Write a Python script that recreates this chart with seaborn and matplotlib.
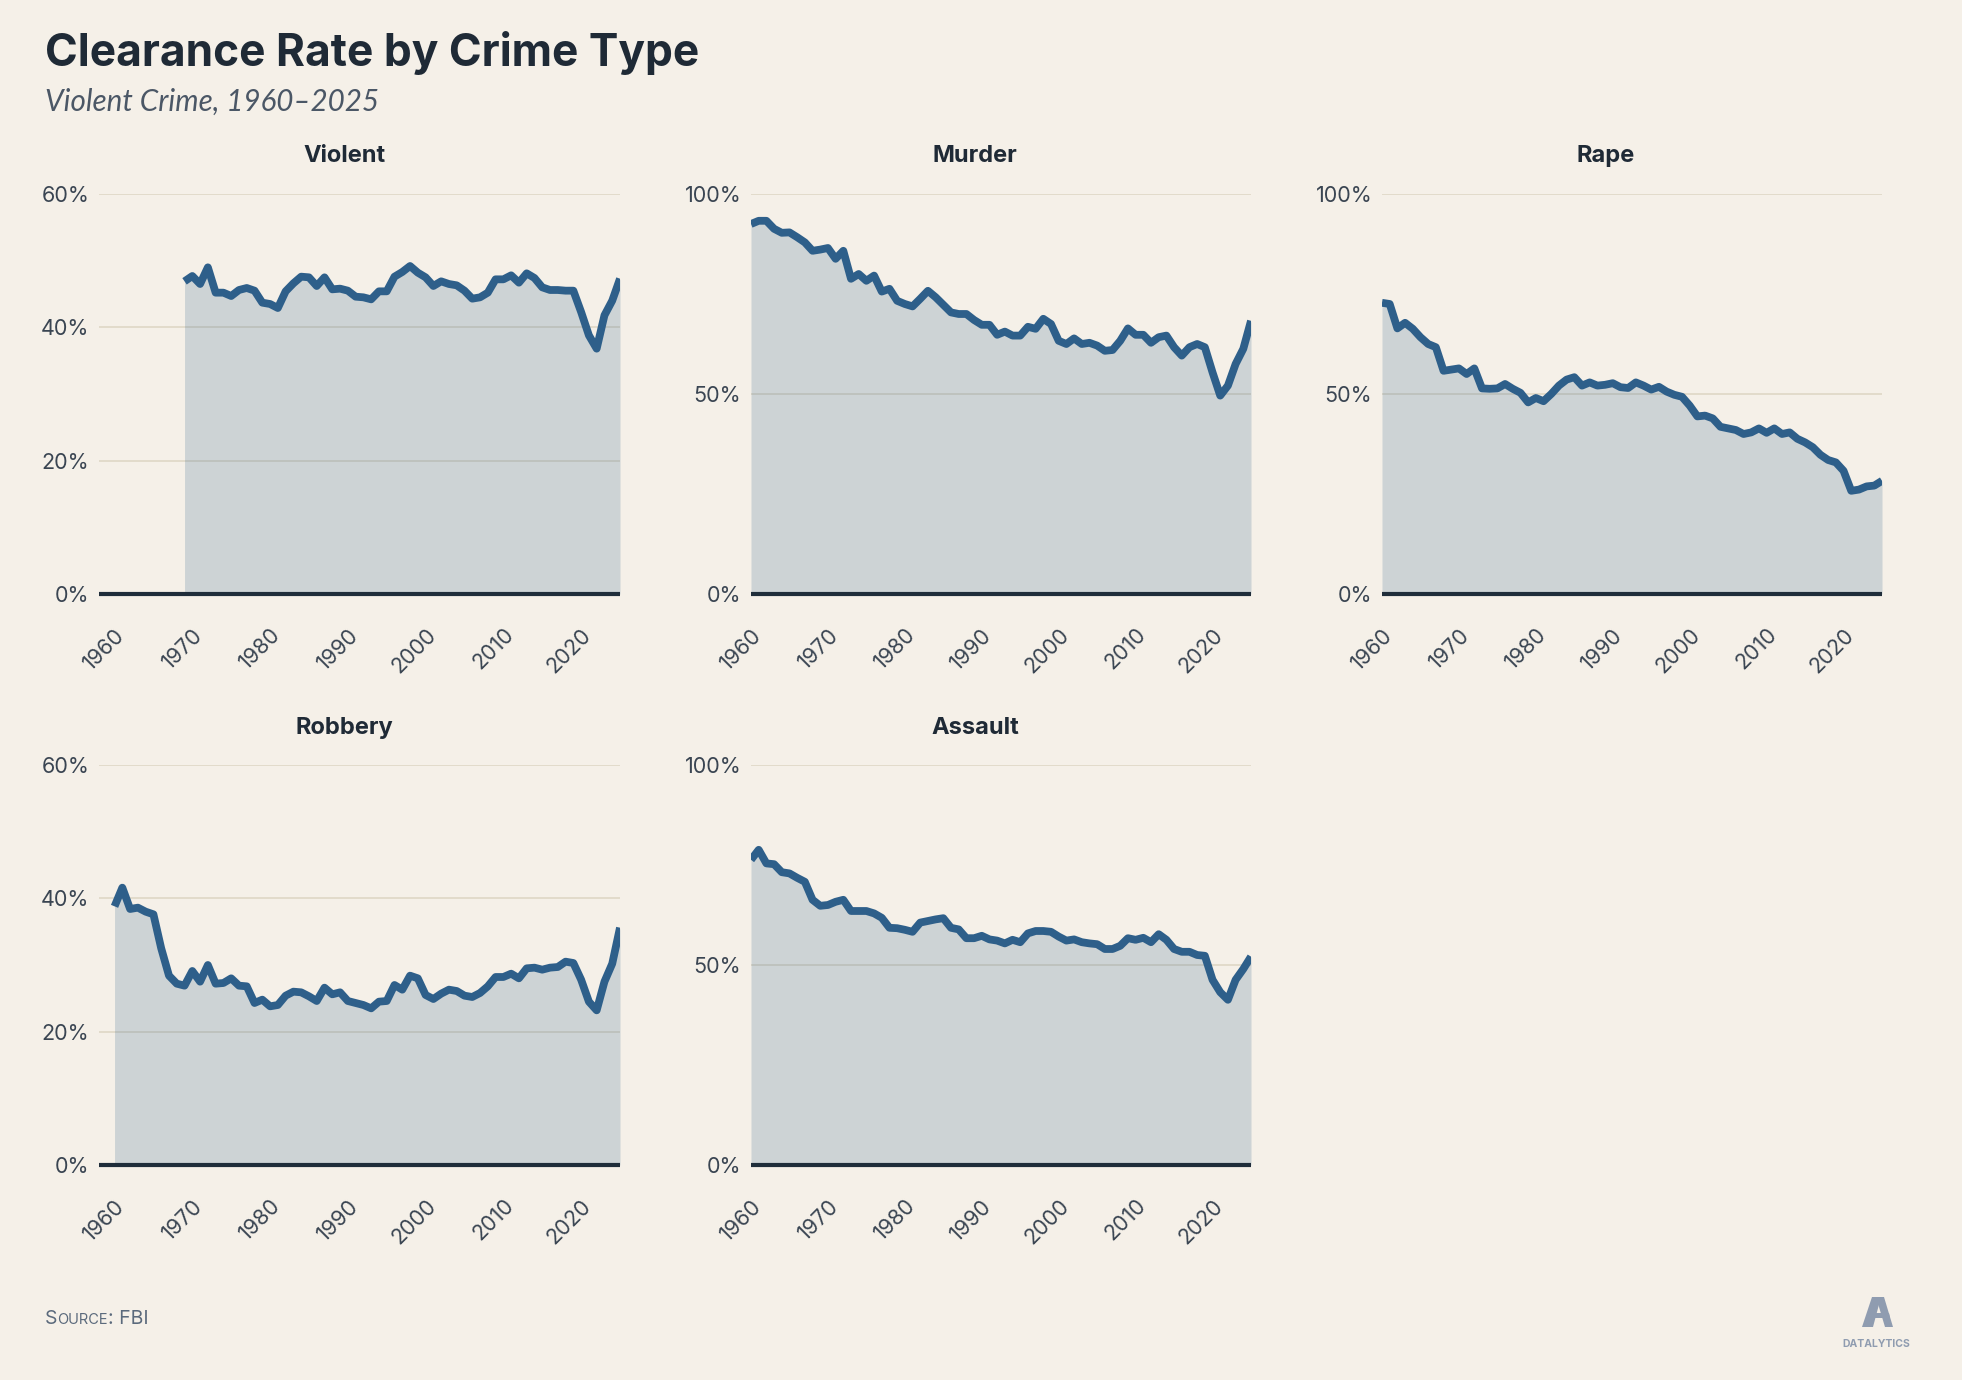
import numpy as np
import pandas as pd
import matplotlib
matplotlib.use("Agg")
import matplotlib.pyplot as plt
from matplotlib.patches import Polygon
import seaborn as sns

# ---------------- data (clearance rate, %) ----------------
violent_start = 1969
violent = [46.9,
           47.7, 46.5, 49.0, 45.2, 45.2, 44.7, 45.6, 45.9, 45.5, 43.7,
           43.5, 42.9, 45.4, 46.6, 47.6, 47.5, 46.2, 47.5, 45.7, 45.8,
           45.5, 44.6, 44.5, 44.2, 45.4, 45.4, 47.6, 48.3, 49.2, 48.2,
           47.5, 46.2, 46.9, 46.5, 46.3, 45.5, 44.3, 44.5, 45.2, 47.2,
           47.2, 47.8, 46.7, 48.1, 47.4, 46.0, 45.6, 45.6, 45.5, 45.5,
           42.3, 38.8, 36.8, 41.8, 44.0, 47.3]

murder_start = 1960
murder = [92.5, 93.3, 93.3, 91.3, 90.3, 90.4, 89.2, 87.9, 85.8, 86.1,
          86.5, 83.8, 85.8, 78.8, 80.0, 78.3, 79.6, 75.6, 76.3, 73.3,
          72.5, 71.9, 73.8, 75.8, 74.2, 72.3, 70.4, 70.0, 70.0, 68.5,
          67.3, 67.3, 64.8, 65.6, 64.6, 64.6, 66.8, 66.3, 68.8, 67.5,
          63.3, 62.5, 63.9, 62.5, 62.8, 62.1, 60.8, 61.0, 63.3, 66.4,
          64.8, 64.8, 62.8, 64.2, 64.6, 61.7, 59.6, 61.7, 62.5, 61.7,
          55.4, 49.6, 52.1, 57.5, 61.3, 68.3]

rape_start = 1960
rape = [72.8, 72.5, 66.4, 67.8, 66.3, 64.2, 62.5, 61.7, 55.8, 56.1,
        56.4, 55.0, 56.4, 51.4, 51.3, 51.4, 52.5, 51.3, 50.3, 47.9,
        49.0, 48.2, 50.0, 52.1, 53.6, 54.2, 52.1, 52.9, 52.1, 52.3,
        52.7, 51.7, 51.5, 52.9, 52.1, 51.1, 51.8, 50.6, 49.8, 49.3,
        47.1, 44.4, 44.6, 43.9, 41.8, 41.4, 41.0, 40.0, 40.4, 41.4,
        40.3, 41.4, 40.0, 40.4, 38.8, 37.9, 36.7, 34.8, 33.5, 32.9,
        30.8, 25.8, 26.1, 26.9, 27.1, 28.3]

robbery_start = 1960
robbery = [38.8, 41.6, 38.4, 38.6, 38.0, 37.6, 32.5, 28.4, 27.2, 26.9,
           29.1, 27.5, 30.0, 27.2, 27.3, 28.0, 26.9, 26.8, 24.3, 24.8,
           23.8, 24.0, 25.4, 26.0, 25.9, 25.3, 24.6, 26.6, 25.6, 25.9,
           24.6, 24.3, 24.0, 23.5, 24.5, 24.6, 27.0, 26.3, 28.4, 28.0,
           25.5, 24.9, 25.7, 26.3, 26.1, 25.4, 25.2, 25.8, 26.8, 28.2,
           28.2, 28.7, 28.0, 29.5, 29.6, 29.3, 29.6, 29.7, 30.5, 30.3,
           27.8, 24.5, 23.2, 27.5, 30.2, 35.6]

assault_start = 1960
assault = [76.3, 78.8, 75.4, 75.2, 73.2, 72.9, 71.8, 70.8, 66.3, 64.8,
           65.0, 65.8, 66.3, 63.5, 63.5, 63.5, 62.9, 61.8, 59.3, 59.2,
           58.8, 58.3, 60.6, 61.0, 61.4, 61.7, 59.3, 58.9, 56.7, 56.7,
           57.3, 56.4, 56.1, 55.4, 56.3, 55.7, 57.9, 58.5, 58.5, 58.3,
           57.1, 56.1, 56.4, 55.7, 55.4, 55.2, 54.0, 54.0, 54.8, 56.7,
           56.3, 56.8, 55.7, 57.7, 56.3, 54.0, 53.3, 53.3, 52.5, 52.3,
           46.3, 43.2, 41.3, 46.3, 49.0, 52.1]

panel_titles = ["Violent", "Murder", "Rape", "Robbery", "Assault"]
x_ticks = [1960, 1970, 1980, 1990, 2000, 2010, 2020]
y_ticks_small = [0, 20, 40, 60]
y_ticks_large = [0, 50, 100]

title = "Clearance Rate by Crime Type"
subtitle = "Violent Crime, 1960\u20132025"

# ---------------- style ----------------
BG = "#f5f0e8"
LINE = "#2e5f8a"
DARK = "#1f2a36"
TICK = "#3a4552"
GRID = "#e2dbcb"
SUB = "#4b5766"

sns.set_theme(style="white")
plt.rcParams["font.family"] = ["Inter", "DejaVu Sans"]

W, H = 1962, 1380
fig = plt.figure(figsize=(W / 100, H / 100), dpi=100, facecolor=BG)


def rect(l, t, r, b):
    return [l / W, 1 - b / H, (r - l) / W, (b - t) / H]


cols = [(99, 620, (1958, 2025), 344), (751, 1251, (1960, 2025), 975),
        (1382, 1882, (1960, 2025), 1606)]
rows = [(194, 594, 162), (765, 1165, 734)]

series = [(violent_start, violent, y_ticks_small),
          (murder_start, murder, y_ticks_large),
          (rape_start, rape, y_ticks_large),
          (robbery_start, robbery, y_ticks_small),
          (assault_start, assault, y_ticks_large)]

for i, (name, (start, vals, yt)) in enumerate(zip(panel_titles, series)):
    r, c = divmod(i, 3)
    l, rr, xlim, tx = cols[c]
    t, b, ty = rows[r]
    ax = fig.add_axes(rect(l, t, rr, b))
    ax.set_facecolor(BG)
    df = pd.DataFrame({"year": np.arange(start, start + len(vals)), "rate": vals})
    ax.fill_between(df["year"], df["rate"], 0, color=LINE, alpha=0.2, lw=0, zorder=2)
    sns.lineplot(data=df, x="year", y="rate", ax=ax, color=LINE, lw=5.6,
                 solid_joinstyle="round", solid_capstyle="butt", zorder=4)
    ax.axhline(0, color="#1f2d3a", lw=3.0, zorder=5, clip_on=False,
               solid_capstyle="butt")
    ax.set_xlim(*xlim)
    ax.set_ylim(0, yt[-1])
    ax.set_yticks(yt)
    ax.set_yticklabels([f"{v}%" for v in yt])
    ax.set_xticks(x_ticks)
    ax.set_xticklabels([str(x) for x in x_ticks], rotation=45, ha="right",
                       rotation_mode="anchor")
    ax.yaxis.grid(True, color=GRID, lw=1.4, zorder=0)
    ax.xaxis.grid(False)
    ax.set_axisbelow(True)
    for s in ax.spines.values():
        s.set_visible(False)
    ax.tick_params(axis="y", length=0, pad=7, labelsize=15.5, labelcolor=TICK)
    ax.tick_params(axis="x", length=0, pad=22, labelsize=15.5, labelcolor=TICK)
    ax.set_xlabel("")
    ax.set_ylabel("")
    fig.text(tx / W, 1 - ty / H, name, ha="center", va="baseline",
             fontsize=17, fontweight="bold", color=DARK)

renderer = fig.canvas.get_renderer()


def fit(txt, target):
    w = txt.get_window_extent(renderer).width
    txt.set_fontsize(txt.get_fontsize() * target / w)


t1 = fig.text(45 / W, 1 - 66 / H, title, ha="left", va="baseline",
              fontsize=30, fontweight="bold", color=DARK)
fit(t1, 655)
t2 = fig.text(45 / W, 1 - 111 / H, subtitle, ha="left", va="baseline",
              fontsize=18, fontstyle="italic", color=SUB,
              family=["Lato", "DejaVu Sans"])
fit(t2, 335)

# source with small caps
SRC = "#5b6a7c"
x = 45
yb = 1 - 1324 / H
for part, fs in [("S", 14), ("OURCE", 10.5), (": FBI", 14)]:
    tt = fig.text(x / W, yb, part, ha="left", va="baseline", fontsize=fs, color=SRC)
    x += tt.get_window_extent(renderer).width

# logo mark (drawn) + wordmark
LOGO = "#8f9cb0"


def fpoly(pts):
    return Polygon([(px / W, 1 - py / H) for px, py in pts], closed=True,
                   transform=fig.transFigure, facecolor=LOGO, edgecolor="none")


fig.patches.append(fpoly([(1862, 1327), (1872, 1297), (1881, 1297), (1873, 1327)]))
fig.patches.append(fpoly([(1876, 1297), (1884, 1297), (1893, 1327), (1885, 1327)]))
fig.patches.append(fpoly([(1868, 1313), (1889, 1313), (1890, 1318), (1869, 1318)]))
fig.text(1876 / W, 1 - 1347 / H, "DATALYTICS", ha="center", va="baseline",
         fontsize=7.5, fontweight="bold", color=LOGO)

fig.savefig("out.png", dpi=100, facecolor=BG)
